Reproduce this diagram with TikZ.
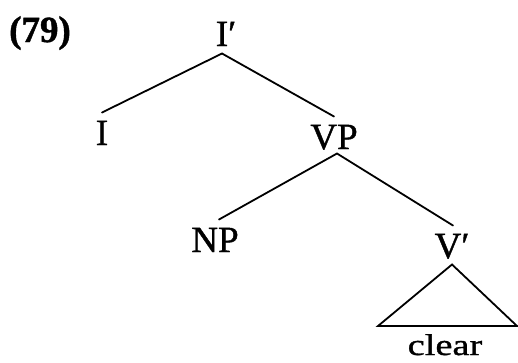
\documentclass[tikz,border=0pt]{standalone}
\usepackage{fontspec}
\setmainfont{Liberation Serif}
\newfontfamily\treefont{Liberation Serif}[FakeBold=1.1]
\newfontfamily\wordfont{Liberation Serif}[FakeBold=1.1,FakeStretch=1.28]
\begin{document}
\begin{tikzpicture}[x=1pt,y=-1pt,
  cat/.style={font=\treefont\fontsize{37}{40}\selectfont, inner sep=0pt, outer sep=7.5pt, text height=25pt, text depth=0pt},
  branch/.style={line width=1.8pt, line cap=round}]
\useasboundingbox (0,0) rectangle (518,362);
\node[font=\treefont\fontsize{37}{40}\selectfont\bfseries, anchor=base, inner sep=0pt] (ex) at (40,42) {(79)};
\node[cat] (Ibar) at (222,33.5) {I\rlap{\char"2032}};
\node[cat] (I) at (102,132.5) {I};
\node[cat] (VP) at (334,136.5) {VP};
\node[cat] (NP) at (215,239.5) {NP};
\node[cat] (Vbar) at (448,245.5) {V\rlap{\char"2032}};
\coordinate (tl) at (378,326);
\coordinate (tr) at (517,326);
\node[font=\wordfont\fontsize{30}{32}\selectfont, anchor=base, inner sep=0pt] (clear) at (445,355) {clear};
\draw[branch] (I.north) -- (Ibar.south) -- (VP.north);
\draw[branch] ([xshift=4pt]NP.north) -- ([xshift=3pt,yshift=3pt]VP.south) -- ([xshift=5pt]Vbar.north);
\draw[branch, line join=miter] ([xshift=4pt,yshift=1pt]Vbar.south) -- (tr) -- (tl) -- cycle;
\end{tikzpicture}
\end{document}
